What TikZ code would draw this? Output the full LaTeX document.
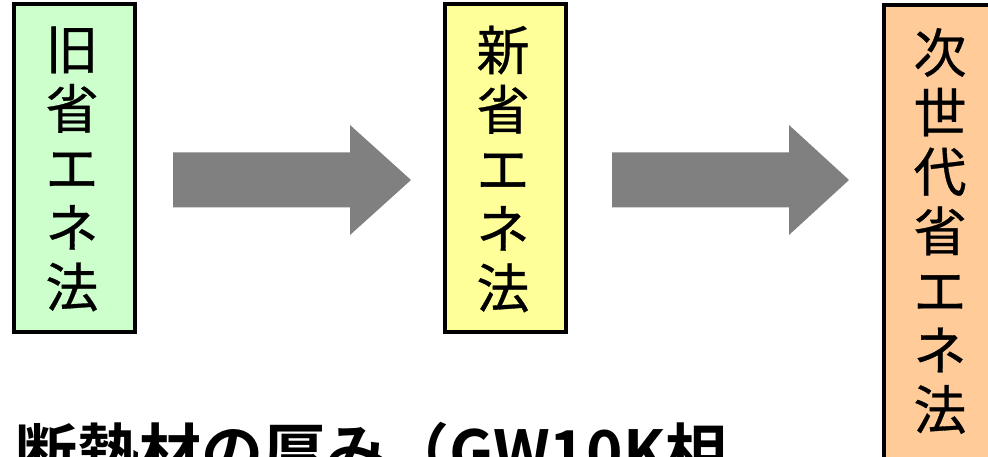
\documentclass[tikz,border=0pt]{standalone}
\usepackage{fontspec}
\usetikzlibrary{calc}
\newfontfamily\jp[FakeBold=0.6]{Noto Sans CJK JP}
\newfontfamily\jpb{Noto Sans CJK JP Bold}
\definecolor{boxgreen}{HTML}{CCFFCC}
\definecolor{boxyellow}{HTML}{FFFF99}
\definecolor{boxorange}{HTML}{FFCC99}
\definecolor{arrowgray}{HTML}{808080}
\tikzset{
  lawbox/.style={draw=black, line width=3.4pt},
  vtext/.style={align=center, inner sep=0pt, font=\jp\fontsize{53}{59.5}\selectfont},
  blockarrow/.style={fill=arrowgray, draw=none},
  caption/.style={anchor=base west, inner sep=0pt, font=\jpb\fontsize{62}{62}\selectfont}
}
\begin{document}
\begin{tikzpicture}[x=1pt,y=-1pt]
\useasboundingbox (0,0) rectangle (988,457);
\clip (0,0) rectangle (988,457);
% boxes
\filldraw[lawbox, fill=boxgreen] (14,4) rectangle (135,332);
\node[vtext] (old) at (72,169) {旧\\省\\エ\\ネ\\法};
\filldraw[lawbox, fill=boxyellow] (445,4) rectangle (566,332);
\node[vtext] (new) at (503,169) {新\\省\\エ\\ネ\\法};
\filldraw[lawbox, fill=boxorange] (884,5) rectangle (1004,480);
\node[vtext] (next) at (940,231) {次\\世\\代\\省\\エ\\ネ\\法};
% arrows
\coordinate (a1s) at (173,180);
\coordinate (a1t) at (411,180);
\coordinate (a2s) at (612,180);
\coordinate (a2t) at (849,180);
\fill[blockarrow] ($(a1s)+(0,-27.5)$) -- ($(a1t)+(-61,-27.5)$) -- ($(a1t)+(-61,-55)$) -- (a1t)
  -- ($(a1t)+(-61,55)$) -- ($(a1t)+(-61,27.5)$) -- ($(a1s)+(0,27.5)$) -- cycle;
\fill[blockarrow] ($(a2s)+(0,-27.5)$) -- ($(a2t)+(-60,-27.5)$) -- ($(a2t)+(-60,-55)$) -- (a2t)
  -- ($(a2t)+(-60,55)$) -- ($(a2t)+(-60,27.5)$) -- ($(a2s)+(0,27.5)$) -- cycle;
% caption
\node[caption] (cap) at (15,475) {断熱材の厚み（GW10K相};
\end{tikzpicture}
\end{document}
